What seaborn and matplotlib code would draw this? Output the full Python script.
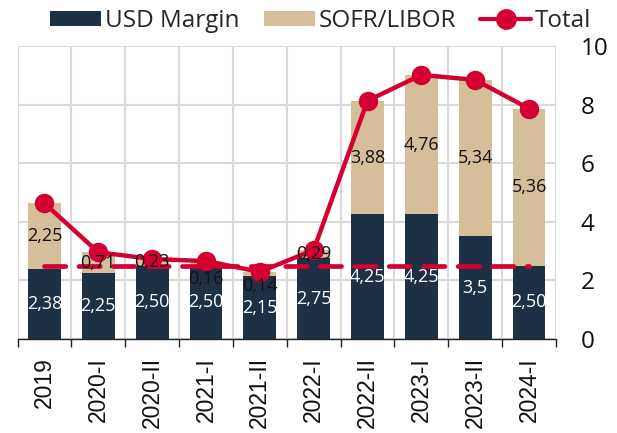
import numpy as np
import pandas as pd
import matplotlib
matplotlib.use("Agg")
import matplotlib.pyplot as plt
from matplotlib.patches import Patch
from matplotlib.lines import Line2D
import seaborn as sns

# --- data ---------------------------------------------------------------
periods = ["2019", "2020-I", "2020-II", "2021-I", "2021-II",
           "2022-I", "2022-II", "2023-I", "2023-II", "2024-I"]
usd_margin = [2.38, 2.25, 2.50, 2.50, 2.15, 2.75, 4.25, 4.25, 3.5, 2.50]
usd_decimals = [2, 2, 2, 2, 2, 2, 2, 2, 1, 2]
sofr_libor = [2.25, 0.71, 0.23, 0.16, 0.14, 0.29, 3.88, 4.76, 5.34, 5.36]
reference_level = [2.5] * len(periods)

total = [round(a + b, 2) for a, b in zip(usd_margin, sofr_libor)]

df = pd.DataFrame({
    "period": periods,
    "usd": usd_margin,
    "sofr": sofr_libor,
    "total": total,
    "ref": reference_level,
})

NAVY = "#1e3044"
TAN = "#d5bf9b"
RED = "#d50032"
GRID = "#d9d9d9"

sns.set_theme(style="white")
plt.rcParams["font.family"] = ["Open Sans", "DejaVu Sans"]

fig = plt.figure(figsize=(6.17, 4.33), dpi=100)
ax = fig.add_axes([0.0284, 0.217, 0.8727, 0.677])

# stacked bars: full height in tan, USD margin in navy on top of it
sns.barplot(data=df, x="period", y="total", color=TAN, width=0.61,
            saturation=1, ax=ax, zorder=2, linewidth=0)
sns.barplot(data=df, x="period", y="usd", color=NAVY, width=0.61,
            saturation=1, ax=ax, zorder=2, linewidth=0)

# dashed reference level
n_before = len(ax.lines)
sns.pointplot(data=df, x="period", y="ref", color=RED, markers="",
              linestyles="--", errorbar=None, ax=ax, zorder=3)
ref_line = ax.lines[n_before]
ref_line.set_linewidth(3.4)
ref_line.set_dashes([4.5, 2.8])
ref_line.set_dash_capstyle("round")

# total line with markers
n_before = len(ax.lines)
sns.pointplot(data=df, x="period", y="total", color=RED, markers="o",
              linestyles="-", errorbar=None, ax=ax, zorder=4)
tot_line = ax.lines[n_before]
tot_line.set_linewidth(3.2)
tot_line.set_markersize(12)

# value labels
label_offsets = [0, 0, 0, -0.52, -0.40, 0, 0, 0, 0, 0]
for i, (u, s, d) in enumerate(zip(usd_margin, sofr_libor, usd_decimals)):
    ax.text(i, u / 2, f"{u:.{d}f}".replace(".", ","), ha="center", va="center",
            color="white", fontsize=13, zorder=5)
    ax.text(i, u + s / 2 + label_offsets[i], f"{s:.2f}".replace(".", ","),
            ha="center", va="center", color="#111111", fontsize=13, zorder=5)

# axes styling
ax.set_xlim(-0.5, len(periods) - 0.5)
ax.set_ylim(0, 10)
ax.set_yticks(np.arange(0, 11, 2))
ax.yaxis.tick_right()
ax.tick_params(axis="y", length=0, pad=18, labelsize=17.5, labelcolor="#111111")
ax.set_xticks(np.arange(-0.5, len(periods), 1), minor=True)
ax.set_xticks(np.arange(len(periods)))
ax.set_xticklabels(periods, rotation=90, fontsize=16.5,
                   family="Liberation Sans", color="#111111")
ax.tick_params(axis="x", which="major", length=0, pad=13)
ax.tick_params(axis="x", which="minor", length=6, width=1.0, color="#222222",
               direction="out", bottom=True)
ax.set_xlabel("")
ax.set_ylabel("")

ax.grid(False)
ax.yaxis.grid(True, color=GRID, linewidth=1.5, zorder=0)
ax.xaxis.grid(True, which="minor", color=GRID, linewidth=1.5, zorder=0)
ax.set_axisbelow(True)
for side in ["top", "right", "left"]:
    ax.spines[side].set_visible(False)
ax.spines["bottom"].set_color("#222222")
ax.spines["bottom"].set_linewidth(1.0)
ax.spines["bottom"].set_zorder(6)

handles = [
    Patch(facecolor=NAVY, edgecolor="none", label="USD Margin"),
    Patch(facecolor=TAN, edgecolor="none", label="SOFR/LIBOR"),
    Line2D([0], [0], color=RED, linewidth=3, marker="o", markersize=14,
           label="Total"),
]
fig.legend(handles=handles, loc="upper center", bbox_to_anchor=(0.52, 1.03),
           ncol=3, frameon=False, fontsize=17.5, handlelength=2.1,
           handleheight=0.55, handletextpad=0.15, columnspacing=1.0)

fig.savefig("out.png", dpi=100)
